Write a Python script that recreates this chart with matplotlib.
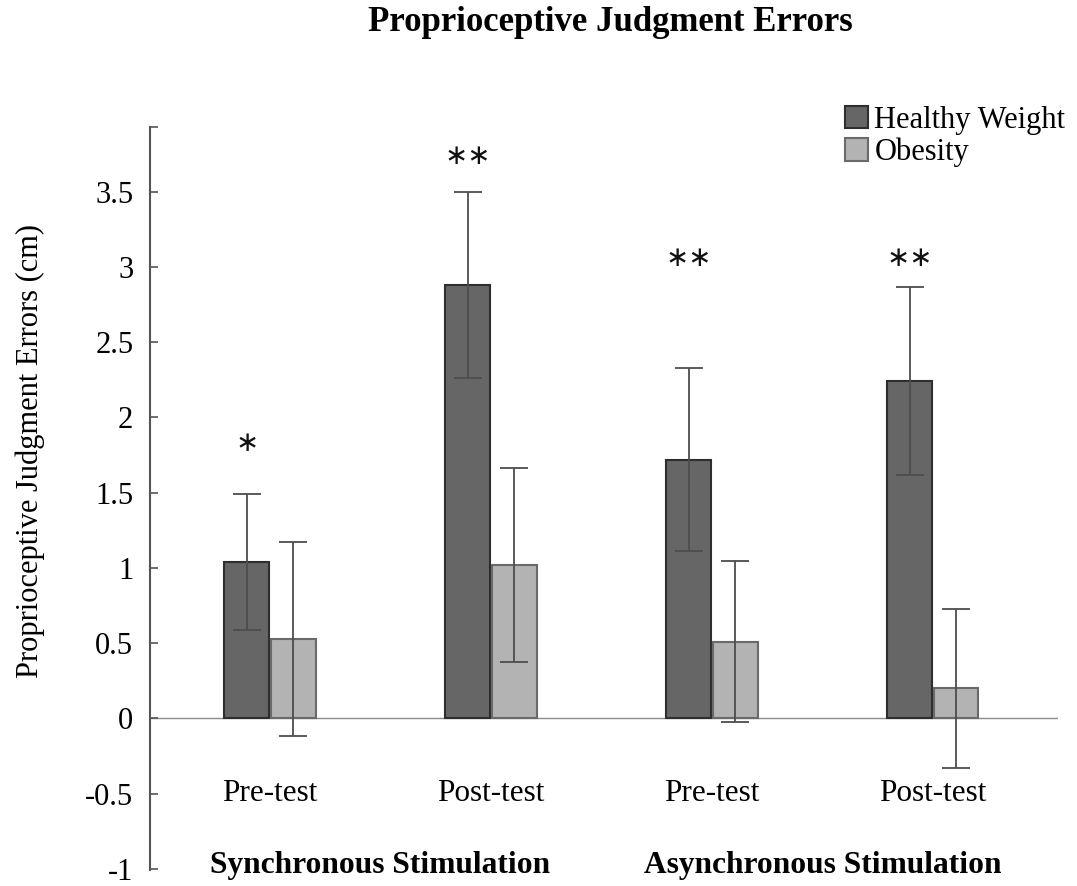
import matplotlib
matplotlib.use("Agg")
import matplotlib.pyplot as plt
import numpy as np
from matplotlib.patches import Patch

plt.rcParams['font.family'] = ['Liberation Serif', 'DejaVu Serif']
plt.rcParams['axes.unicode_minus'] = False

# ---- data ----
conditions = ["Pre-test", "Post-test", "Pre-test", "Post-test"]
stimulation = ["Synchronous Stimulation", "Asynchronous Stimulation"]
healthy = [1.04, 2.88, 1.72, 2.24]
healthy_err = [0.45, 0.62, 0.61, 0.625]
obesity = [0.53, 1.02, 0.51, 0.20]
obesity_err = [0.645, 0.645, 0.535, 0.53]
stars = ["∗", "∗∗", "∗∗", "∗∗"]
star_y = [1.83, 3.74, 3.06, 3.06]
yticks = [-1, -0.5, 0, 0.5, 1, 1.5, 2, 2.5, 3, 3.5]

# ---- figure ----
fig = plt.figure(figsize=(10.77, 8.86), dpi=100)
ax = fig.add_axes([0.1393, 0.0185, 0.8431, 0.8382])

x = np.arange(len(conditions))
w = 0.2
off = 0.106
dark = "#666666"
light = "#b3b3b3"
errc = "#4d4d4d"

ax.bar(x - off, healthy, w, color=dark, edgecolor="#2e2e2e", linewidth=1.5, zorder=2)
ax.bar(x + off, obesity, w, color=light, edgecolor="#6a6a6a", linewidth=1.5, zorder=2)
ax.errorbar(x - off, healthy, yerr=healthy_err, fmt='none', ecolor=errc,
            elinewidth=1.3, capsize=10, capthick=1.3, zorder=3)
ax.errorbar(x + off, obesity, yerr=obesity_err, fmt='none', ecolor=errc,
            elinewidth=1.3, capsize=10, capthick=1.3, zorder=3)

ax.axhline(0, color="#8c8c8c", linewidth=1.0, zorder=1)

for xi, s, sy in zip(x, stars, star_y):
    ax.text(xi - off, sy, s, ha='center', va='center', fontsize=20,
            family=['DejaVu Sans'], color='#111111')

for xi, lab in zip(x, conditions):
    ax.text(xi, -0.5, lab, ha='center', va='center', fontsize=22.5)

for i, lab in enumerate(stimulation):
    ax.text((x[2 * i] + x[2 * i + 1]) / 2, -0.98, lab, ha='center', va='center',
            fontsize=22.7, fontweight='bold')

ax.set_xlim(-0.543, 3.566)
ax.set_ylim(-1.005, 3.93)
ax.set_yticks(yticks + [3.93])
ax.set_yticklabels(["%g" % t for t in yticks] + [""])
ax.tick_params(axis='y', direction='in', length=6, width=1.2, color="#555555",
               labelsize=22, pad=12)
ax.set_xticks([])
for sp in ['top', 'right', 'bottom']:
    ax.spines[sp].set_visible(False)
ax.spines['left'].set_color("#555555")
ax.spines['left'].set_linewidth(1.5)

ax.set_ylabel("Proprioceptive Judgment Errors (cm)", fontsize=22)
ax.yaxis.set_label_coords(-0.1156, 0.564)

fig.text(0.567, 0.975, "Proprioceptive Judgment Errors", ha='center', va='center',
         fontsize=25, fontweight='bold')

handles = [Patch(facecolor=dark, edgecolor="#2e2e2e", linewidth=1.5, label="Healthy Weight"),
           Patch(facecolor=light, edgecolor="#6a6a6a", linewidth=1.5, label="Obesity")]
fig.legend(handles=handles, loc='upper left', bbox_to_anchor=(0.765, 0.905),
           frameon=False, fontsize=22, handlelength=0.75, handleheight=0.75,
           handletextpad=0.2, labelspacing=0.1, borderpad=0.2)

fig.savefig("out.png", dpi=100)
